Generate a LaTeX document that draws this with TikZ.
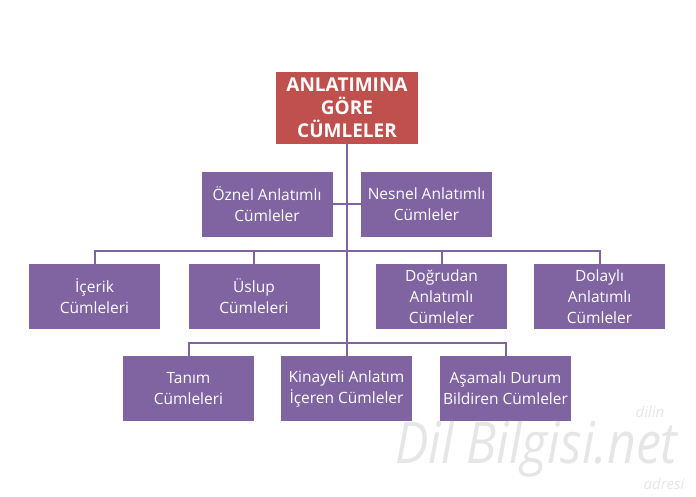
\documentclass[tikz,border=0pt]{standalone}
\usepackage{fontspec}
\setmainfont{Open Sans}
\usepackage{xcolor}
\usepackage{tikz}

\definecolor{boxred}{HTML}{C0504D}
\definecolor{boxpurple}{HTML}{8064A2}
\definecolor{markgray}{HTML}{E6E6E6}

\begin{document}
\begin{tikzpicture}[x=1pt,y=-1pt,
    kind/.style={fill=boxpurple, text=white, minimum width=131pt, minimum height=65pt,
        inner sep=0pt, align=center, font=\fontsize{15.5}{21}\selectfont},
    root/.style={fill=boxred, text=white, minimum width=142pt, minimum height=72pt,
        inner sep=0pt, align=center, font=\fontsize{19}{23}\selectfont\bfseries},
    link/.style={draw=boxpurple, line width=2pt}]
    \useasboundingbox (0,0) rectangle (696,497);

    % Add the watermark
    \node[text=markgray, anchor=base west, yscale=1.15, inner sep=0pt,
        font=\fontsize{50}{50}\selectfont\itshape] (mark) at (395,463) {Dil Bilgisi.net};
    \node[text=markgray, inner sep=0pt, font=\fontsize{15}{15}\selectfont\itshape] (markup) at (650,412) {dilin};
    \node[text=markgray, inner sep=0pt, font=\fontsize{15}{15}\selectfont\itshape] (markdown) at (664,484) {adresi};

    % Draw the boxes
    \node[root] (top) at (347,108) {ANLATIMINA\\GÖRE\\CÜMLELER};

    \node[kind] (oznel) at (267,204.5) {Öznel Anlatımlı\\Cümleler};
    \node[kind] (nesnel) at (426.5,204.5) {Nesnel Anlatımlı\\Cümleler};

    \node[kind] (icerik) at (94.5,296.5) {İçerik\\Cümleleri};
    \node[kind] (uslup) at (254,296.5) {Üslup\\Cümleleri};
    \node[kind] (dogrudan) at (441.5,296.5) {Doğrudan\\Anlatımlı\\Cümleler};
    \node[kind] (dolayli) at (599.5,296.5) {Dolaylı\\Anlatımlı\\Cümleler};

    \node[kind] (tanim) at (188.5,388.5) {Tanım\\Cümleleri};
    \node[kind] (kinayeli) at (346.5,388.5) {Kinayeli Anlatım\\İçeren Cümleler};
    \node[kind] (asamali) at (505.5,388.5) {Aşamalı Durum\\Bildiren Cümleler};

    % Draw the connectors
    \coordinate (bus1) at (347,251);
    \coordinate (bus2) at (347,343);
    \draw[link] (top.south) -- (top.south |- kinayeli.north);
    \draw[link] (oznel.east) -- (nesnel.west);
    \draw[link] (icerik.north) |- (bus1) -| (dolayli.north);
    \draw[link] (uslup.north) -- (uslup.north |- bus1);
    \draw[link] (dogrudan.north) -- (dogrudan.north |- bus1);
    \draw[link] (tanim.north) |- (bus2) -| (asamali.north);
\end{tikzpicture}
\end{document}
